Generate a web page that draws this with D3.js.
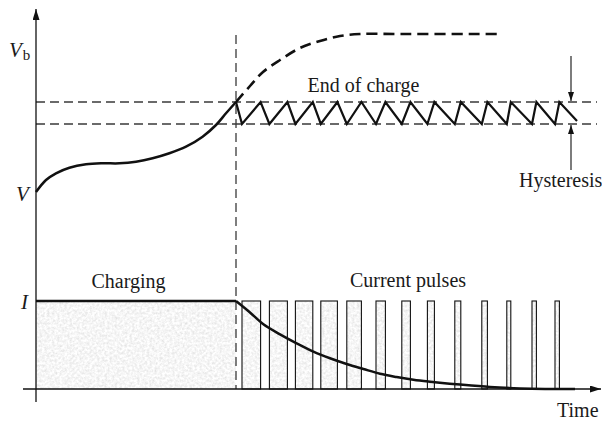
<!DOCTYPE html>
<html><head><meta charset="utf-8">
<script src="https://cdn.jsdelivr.net/npm/d3@7"></script>
<style>html,body{margin:0;padding:0;background:#fff}svg{display:block}</style>
</head><body>
<script>
// ---- data (arbitrary time / voltage / current units) ----
const chargeT = [0, 0.5, 1.0, 1.67, 2.5, 3.33, 4.17, 5.0, 5.83, 6.67, 7.5, 8.33, 9.0, 9.5, 10];
const chargeV = [0, 1.2, 1.87, 2.43, 2.77, 2.87, 2.87, 3.03, 3.37, 3.87, 4.53, 5.53, 6.7, 7.87, 9.0];
const overT = [10, 10.7, 11.35, 12.2, 13.2, 14.2, 15.2, 16.2, 18, 23.05];
const overV = [9.0, 10.6, 12.0, 13.2, 14.4, 15.1, 15.6, 15.8, 15.8, 15.8];
const currentT = [10, 10.7, 11.37, 12.2, 13.03, 13.87, 14.7, 15.53, 16.37, 17.2, 18.03, 18.87, 19.7, 21.2, 22.7, 24.2, 25.45, 26.95];
const currentI = [1, 0.87, 0.735, 0.621, 0.519, 0.424, 0.349, 0.284, 0.227, 0.173, 0.136, 0.105, 0.083, 0.05, 0.022, 0.006, 0, 0];
const pulseStart = [10.3, 11.67, 12.97, 14.24, 15.54, 17.0, 18.29, 19.57, 20.94, 22.29, 23.54, 24.8, 25.95];
const pulseEnd   = [11.23, 12.57, 13.84, 15.07, 16.27, 17.47, 18.72, 19.92, 21.24, 22.57, 23.74, 25.02, 26.17];
const chargeEndT = 10, vEOC = 9.0, vLow = 6.8, lastT = 27.05, lastV = 7.1;
const hystT = 26.75, lineEndT = 28.05;
const labels = {vb: "V", vbSub: "b", v: "V", i: "I", charging: "Charging", pulses: "Current pulses",
  eoc: "End of charge", hyst: "Hysteresis", time: "Time"};

const W = 602, H = 421;
const x = d3.scaleLinear().domain([0, 28.2]).range([36, 600]);
const v = d3.scaleLinear().domain([0, 16]).range([192, 32]);
const cur = d3.scaleLinear().domain([0, 1]).range([389, 301]);

const svg = d3.select("body").append("svg").attr("width", W).attr("height", H)
  .style("font-family", "'Liberation Serif','Times New Roman',serif");
const defs = svg.append("defs");
const f = defs.append("filter").attr("id", "grain").attr("x", 0).attr("y", 0).attr("width", 1).attr("height", 1);
f.append("feTurbulence").attr("type", "fractalNoise").attr("baseFrequency", 0.4).attr("numOctaves", 3).attr("seed", 5).attr("result", "n");
f.append("feColorMatrix").attr("in", "n").attr("type", "matrix")
  .attr("values", "0.4 0 0 0 0.72  0.4 0 0 0 0.72  0.4 0 0 0 0.72  0 0 0 0 1").attr("result", "g");
f.append("feComposite").attr("in", "g").attr("in2", "SourceGraphic").attr("operator", "in");
function marker(id, len, wid) {
  defs.append("marker").attr("id", id).attr("viewBox", `0 0 ${len} ${wid}`).attr("refX", len).attr("refY", wid / 2)
    .attr("markerWidth", len).attr("markerHeight", wid).attr("markerUnits", "userSpaceOnUse").attr("orient", "auto")
    .append("path").attr("d", `M0,0L${len},${wid / 2}L0,${wid}Z`).attr("fill", "#111");
}
marker("ax", 11, 7);
marker("hy", 9, 6);

// charging block
svg.append("rect").attr("x", x(0)).attr("y", cur(1)).attr("width", x(chargeEndT) - x(0)).attr("height", cur(0) - cur(1))
  .attr("fill", "#e6e6e6").attr("filter", "url(#grain)");
// pulses
const pulses = pulseStart.map((s, k) => [s, pulseEnd[k]]);
svg.selectAll("rect.p").data(pulses).join("rect").attr("class", "p")
  .attr("x", d => x(d[0])).attr("y", cur(1)).attr("width", d => x(d[1]) - x(d[0])).attr("height", cur(0) - cur(1))
  .attr("fill", "#e6e6e6").attr("filter", "url(#grain)");
svg.selectAll("rect.po").data(pulses).join("rect").attr("class", "po")
  .attr("x", d => x(d[0])).attr("y", cur(1)).attr("width", d => x(d[1]) - x(d[0])).attr("height", cur(0) - cur(1))
  .attr("fill", "none").attr("stroke", "#111").attr("stroke-width", 1.1);

// thin dashed guides
function dl(x1, y1, x2, y2) {
  svg.append("line").attr("x1", x1).attr("y1", y1).attr("x2", x2).attr("y2", y2)
    .attr("stroke", "#3a3a3a").attr("stroke-width", 1.3).attr("stroke-dasharray", "9,5");
}
dl(x(0), v(vEOC), x(lineEndT), v(vEOC));
dl(x(0), v(vLow), x(lineEndT), v(vLow));
dl(x(chargeEndT), 35, x(chargeEndT), cur(0));

// charging current line
svg.append("line").attr("x1", x(0)).attr("x2", x(chargeEndT)).attr("y1", cur(1)).attr("y2", cur(1))
  .attr("stroke", "#111").attr("stroke-width", 2.4);

// voltage curve
const lineV = d3.line().x(d => x(d[0])).y(d => v(d[1])).curve(d3.curveCatmullRom);
svg.append("path").attr("d", lineV(chargeT.map((t, k) => [t, chargeV[k]])))
  .attr("fill", "none").attr("stroke", "#111").attr("stroke-width", 2.5);
svg.append("path").attr("d", lineV(overT.map((t, k) => [t, overV[k]])))
  .attr("fill", "none").attr("stroke", "#111").attr("stroke-width", 2.6).attr("stroke-dasharray", "11,6");

// sawtooth
const saw = [[chargeEndT, vEOC]];
pulseStart.forEach((s, k) => { saw.push([s, vLow]); saw.push([pulseEnd[k], vEOC]); });
saw.push([lastT, lastV]);
svg.append("path").attr("d", d3.line().x(d => x(d[0])).y(d => v(d[1]))(saw))
  .attr("fill", "none").attr("stroke", "#111").attr("stroke-width", 2.2).attr("stroke-linejoin", "miter");

// current decay curve
svg.append("path").attr("d", d3.line().x(d => x(d[0])).y(d => cur(d[1])).curve(d3.curveCatmullRom)(currentT.map((t, k) => [t, currentI[k]])))
  .attr("fill", "none").attr("stroke", "#111").attr("stroke-width", 2.5);

// axes
svg.append("line").attr("x1", x(0)).attr("x2", x(0)).attr("y1", 402).attr("y2", 9)
  .attr("stroke", "#111").attr("stroke-width", 1.3).attr("marker-end", "url(#ax)");
svg.append("line").attr("x1", 23).attr("x2", 601).attr("y1", cur(0)).attr("y2", cur(0))
  .attr("stroke", "#111").attr("stroke-width", 1.3).attr("marker-end", "url(#ax)");

// hysteresis arrows
svg.append("line").attr("x1", x(hystT)).attr("x2", x(hystT)).attr("y1", 56).attr("y2", v(vEOC) - 1)
  .attr("stroke", "#111").attr("stroke-width", 1.1).attr("marker-end", "url(#hy)");
svg.append("line").attr("x1", x(hystT)).attr("x2", x(hystT)).attr("y1", 170).attr("y2", v(vLow) + 1)
  .attr("stroke", "#111").attr("stroke-width", 1.1).attr("marker-end", "url(#hy)");

// labels
const txt = (s, tx, ty, opts = {}) => {
  const t = svg.append("text").attr("x", tx).attr("y", ty).attr("font-size", opts.size || 20).attr("fill", "#1a1a1a")
    .attr("text-anchor", opts.anchor || "start").text(s);
  if (opts.italic) t.attr("font-style", "italic");
  return t;
};
const vb = svg.append("text").attr("x", 9).attr("y", 57).attr("font-size", 21).attr("fill", "#1a1a1a");
vb.append("tspan").attr("font-style", "italic").text(labels.vb);
vb.append("tspan").attr("font-size", 15).attr("dx", 1).attr("dy", 3).text(labels.vbSub);
txt(labels.v, 16, 201, {italic: true, size: 21});
txt(labels.i, 21, 309, {italic: true, size: 21});
txt(labels.charging, 128.5, 288, {anchor: "middle"});
txt(labels.pulses, 408, 287, {anchor: "middle"});
txt(labels.eoc, 363.5, 92, {anchor: "middle"});
txt(labels.hyst, 519, 187);
txt(labels.time, 557, 417);
</script>
</body></html>
